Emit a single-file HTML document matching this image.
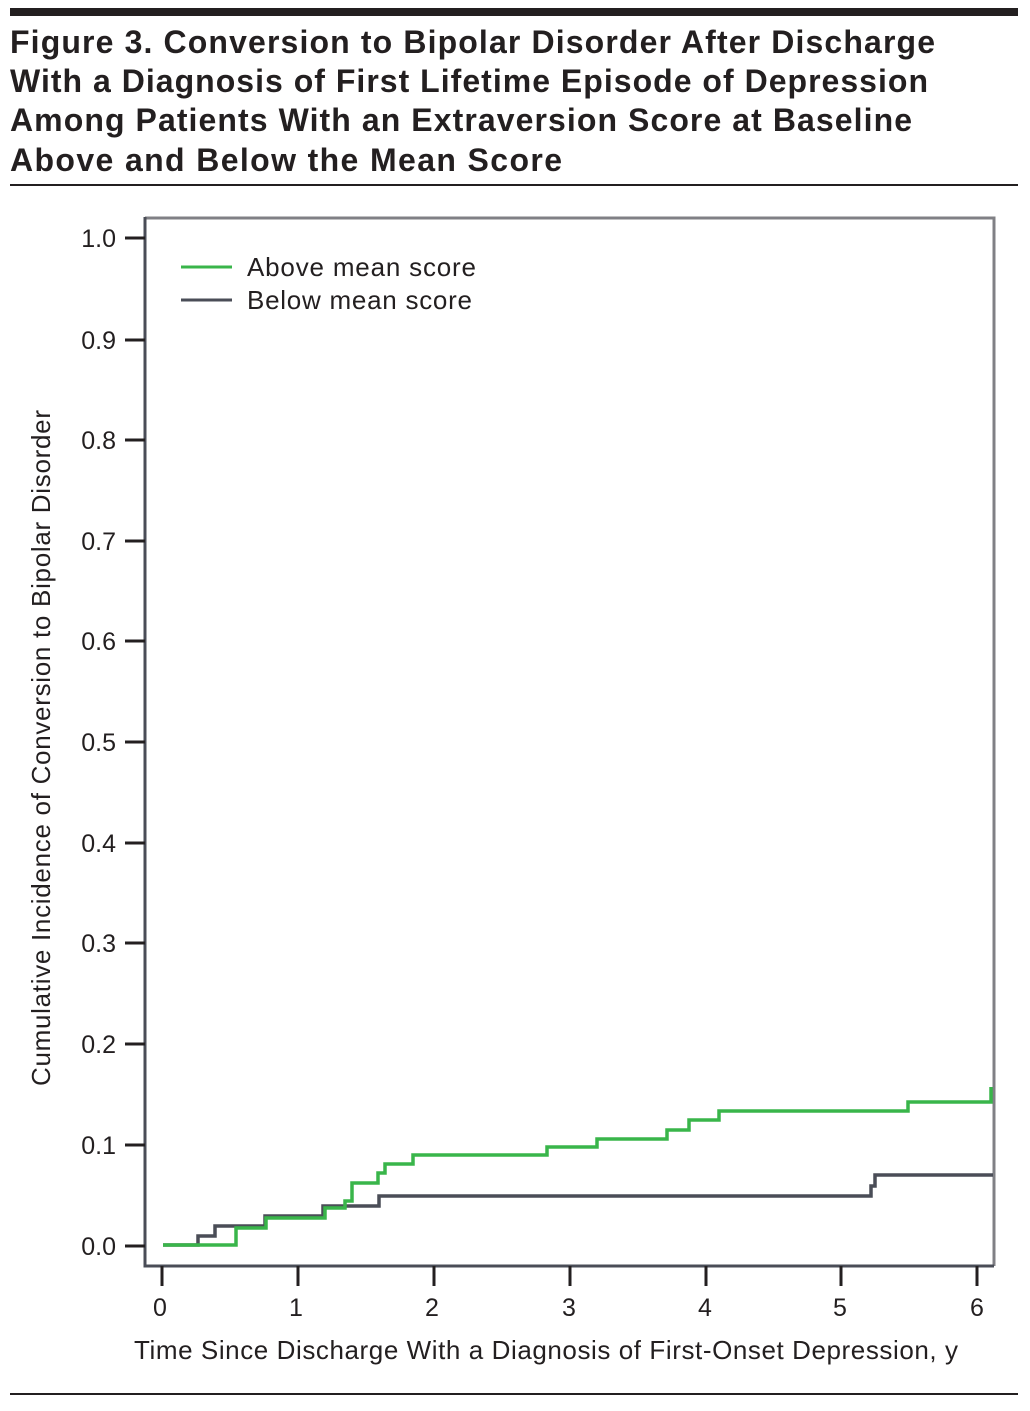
<!DOCTYPE html>
<html><head><style>
body{margin:0;background:#fff;}
svg text{font-family:"Liberation Sans",sans-serif;fill:#231f20;}
</style></head><body>
<svg width="1030" height="1406" viewBox="0 0 1030 1406" xmlns="http://www.w3.org/2000/svg">
<rect x="10" y="8" width="1008" height="8" fill="#231f20"/>
<g font-weight="bold" font-size="32">
<text x="10" y="53" textLength="925">Figure 3. Conversion to Bipolar Disorder After Discharge</text>
<text x="10" y="92" textLength="918">With a Diagnosis of First Lifetime Episode of Depression</text>
<text x="10" y="131" textLength="902">Among Patients With an Extraversion Score at Baseline</text>
<text x="10" y="171" textLength="552">Above and Below the Mean Score</text>
</g>
<rect x="10" y="184" width="1008" height="2" fill="#231f20"/>
<rect x="10" y="1393" width="1008" height="2" fill="#231f20"/>
<path d="M145 218H994V1266" fill="none" stroke="#808085" stroke-width="3"/>
<path d="M145 217V1266H994" fill="none" stroke="#4a4d57" stroke-width="3"/>
<g stroke="#231f20" stroke-width="3">
<line x1="125" x2="145" y1="238" y2="238"/><line x1="125" x2="145" y1="340" y2="340"/>
<line x1="125" x2="145" y1="440" y2="440"/><line x1="125" x2="145" y1="541" y2="541"/>
<line x1="125" x2="145" y1="641" y2="641"/><line x1="125" x2="145" y1="742" y2="742"/>
<line x1="125" x2="145" y1="843" y2="843"/><line x1="125" x2="145" y1="943" y2="943"/>
<line x1="125" x2="145" y1="1044" y2="1044"/><line x1="125" x2="145" y1="1145" y2="1145"/>
<line x1="125" x2="145" y1="1246" y2="1246"/>
<line x1="162" x2="162" y1="1266" y2="1286"/><line x1="298" x2="298" y1="1266" y2="1286"/>
<line x1="434" x2="434" y1="1266" y2="1286"/><line x1="570" x2="570" y1="1266" y2="1286"/>
<line x1="706" x2="706" y1="1266" y2="1286"/><line x1="841" x2="841" y1="1266" y2="1286"/>
<line x1="977" x2="977" y1="1266" y2="1286"/>
</g>
<g font-size="25" text-anchor="end">
<text x="116" y="247">1.0</text><text x="116" y="349">0.9</text><text x="116" y="449">0.8</text>
<text x="116" y="550">0.7</text><text x="116" y="650">0.6</text><text x="116" y="751">0.5</text>
<text x="116" y="852">0.4</text><text x="116" y="952">0.3</text><text x="116" y="1053">0.2</text>
<text x="116" y="1154">0.1</text><text x="116" y="1255">0.0</text>
</g>
<g font-size="25" text-anchor="middle">
<text x="160" y="1316">0</text><text x="296" y="1316">1</text><text x="432" y="1316">2</text>
<text x="569" y="1316">3</text><text x="705" y="1316">4</text><text x="840" y="1316">5</text>
<text x="977" y="1316">6</text>
<text x="546" y="1359" font-size="26" textLength="824">Time Since Discharge With a Diagnosis of First-Onset Depression, y</text>
<text transform="translate(50,748) rotate(-90)" font-size="26" textLength="676">Cumulative  Incidence of Conversion to Bipolar Disorder</text>
</g>
<line x1="181" x2="232" y1="267" y2="267" stroke="#39b54a" stroke-width="3"/>
<line x1="181" x2="232" y1="300" y2="300" stroke="#4a4d57" stroke-width="3"/>
<text x="247" y="276" font-size="26" textLength="229">Above mean score</text>
<text x="247" y="309" font-size="26" textLength="225">Below mean score</text>
<path d="M163 1245H198V1236H215V1226H265V1216H323V1206H379V1196H871V1186H875V1175H993" fill="none" stroke="#4a4d57" stroke-width="3.5"/>
<path d="M163 1245H236V1228H266V1218H325V1208H345V1201H352V1183H378V1173H385V1164H413V1155H547V1147H597V1139H667V1130H689V1120H719V1111H908V1102H991V1087" fill="none" stroke="#39b54a" stroke-width="3.5"/>
</svg>
</body></html>
